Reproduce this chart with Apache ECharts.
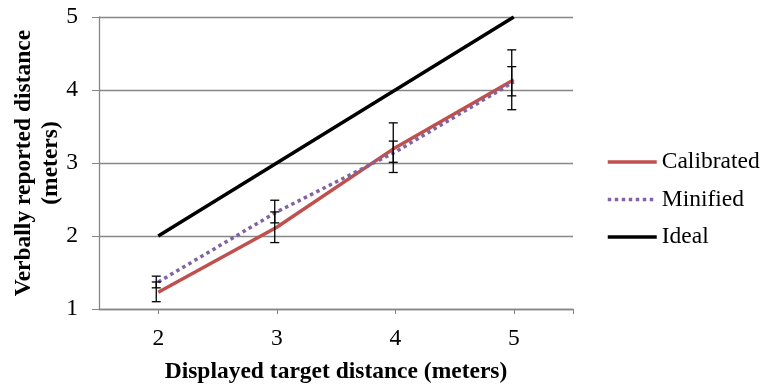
<!DOCTYPE html>
<html>
<head>
<meta charset="utf-8">
<script src="https://cdn.jsdelivr.net/npm/echarts@6/dist/echarts.min.js"></script>
<style>html,body{margin:0;padding:0;background:#fff}#c{width:761px;height:384px}</style>
</head>
<body>
<div id="c"></div>
<script>
const categories = [2, 3, 4, 5];
const calibrated = [1.23, 2.12, 3.21, 4.14];
const calibratedLow = [1.10, 1.91, 2.87, 3.73];
const calibratedHigh = [1.37, 2.33, 3.55, 4.55];
const minified = [1.37, 2.33, 3.15, 4.11];
const minifiedLow = [1.29, 2.18, 3.01, 3.92];
const minifiedHigh = [1.45, 2.49, 3.30, 4.32];
const ideal = [2, 3, 4, 5];
const yTicks = [1, 2, 3, 4, 5];

const FONT = '"Liberation Serif", "Times New Roman", serif';
const FS = 23.5;
const pair = (arr) => categories.map((c, i) => [c, arr[i]]);
const errData = (lo, hi) => categories.map((c, i) => [c, lo[i], hi[i]]);

function errRender(params, api) {
  const x = api.value(0);
  const lo = api.coord([x, api.value(1)]);
  const hi = api.coord([x, api.value(2)]);
  const cx = lo[0] - 2;
  const w = 4.5;
  const st = { stroke: '#000', lineWidth: 1.3 };
  return {
    type: 'group',
    children: [
      { type: 'line', shape: { x1: cx, y1: hi[1], x2: cx, y2: lo[1] }, style: st },
      { type: 'line', shape: { x1: cx - w, y1: hi[1], x2: cx + w, y2: hi[1] }, style: st },
      { type: 'line', shape: { x1: cx - w, y1: lo[1], x2: cx + w, y2: lo[1] }, style: st }
    ]
  };
}

const chart = echarts.init(document.getElementById('c'), null, { renderer: 'canvas' });
chart.setOption({
  animation: false,
  backgroundColor: '#fff',
  textStyle: { fontFamily: FONT },
  grid: { left: 99, right: 188, top: 17, bottom: 75, containLabel: false, outerBoundsMode: 'none' },
  legend: {
    orient: 'vertical',
    left: 606,
    top: 150,
    itemWidth: 49,
    itemHeight: 3,
    itemGap: 13.5,
    padding: 0,
    itemStyle: { opacity: 0 },
    lineStyle: { width: 3.5 },
    data: ['Calibrated', 'Minified', 'Ideal'],
    textStyle: { fontFamily: 'Liberation Serif', fontSize: FS, color: '#000', lineHeight: 24 }
  },
  xAxis: {
    type: 'value',
    min: 1.5,
    max: 5.5,
    interval: 0.5,
    name: 'Displayed target distance (meters)',
    nameLocation: 'middle',
    nameGap: 51,
    nameMoveOverlap: false,
    nameTextStyle: { fontFamily: FONT, fontSize: FS, fontWeight: 'bold', color: '#000' },
    axisLine: { show: true, lineStyle: { color: '#868686', width: 1.3 } },
    axisTick: { show: true, length: 5, customValues: [2, 3, 4, 5, 5.5], lineStyle: { color: '#868686' } },
    axisLabel: { customValues: categories, fontFamily: FONT, fontSize: FS, color: '#000', margin: 18 },
    splitLine: { show: false }
  },
  yAxis: {
    type: 'value',
    min: 1,
    max: 5,
    interval: 1,
    name: 'Verbally reported distance\n(meters)',
    nameLocation: 'middle',
    nameRotate: 90,
    nameGap: 35,
    nameMoveOverlap: false,
    nameTextStyle: { fontFamily: FONT, fontSize: FS, fontWeight: 'bold', color: '#000', lineHeight: 26.5 },
    axisLine: { show: true, lineStyle: { color: '#868686', width: 1.3 } },
    axisTick: { show: true, length: 7, lineStyle: { color: '#868686' } },
    axisLabel: { fontFamily: FONT, fontSize: FS, color: '#000', margin: 21, formatter: (v) => yTicks.includes(v) ? String(v) : '' },
    splitLine: { show: true, lineStyle: { color: '#868686', width: 1.3 } }
  },
  series: [
    {
      name: 'Calibrated', type: 'line', data: pair(calibrated), symbol: 'none',
      lineStyle: { color: '#C0504D', width: 3.5 }, itemStyle: { color: '#C0504D' }, z: 3
    },
    {
      name: 'Minified', type: 'line', data: pair(minified), symbol: 'none',
      lineStyle: { color: '#8064A2', width: 3.5, type: [3.5, 3.5] }, itemStyle: { color: '#8064A2' }, z: 3
    },
    {
      name: 'Ideal', type: 'line', data: pair(ideal), symbol: 'none',
      lineStyle: { color: '#000', width: 3.5 }, itemStyle: { color: '#000' }, z: 3
    },
    { name: 'errCal', type: 'custom', data: errData(calibratedLow, calibratedHigh), renderItem: errRender, z: 5, encode: { x: 0, y: [1, 2] } },
    { name: 'errMin', type: 'custom', data: errData(minifiedLow, minifiedHigh), renderItem: errRender, z: 5, encode: { x: 0, y: [1, 2] } }
  ]
});
</script>
</body>
</html>
